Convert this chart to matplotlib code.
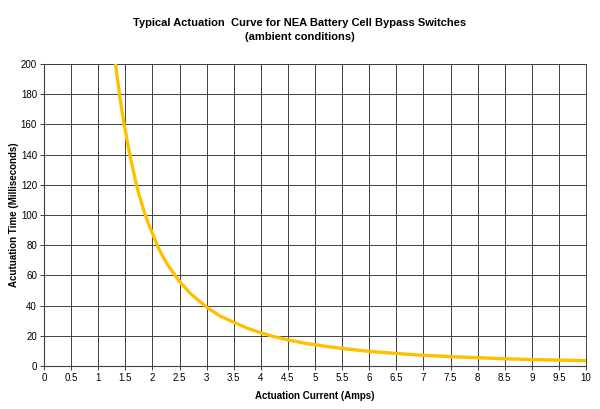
import numpy as np
import matplotlib as mpl
mpl.use("Agg")
from matplotlib import pyplot as plt

plt.rcParams['font.family'] = ['Liberation Sans', 'DejaVu Sans']

# Actuation current (A) and time (ms)
current = [1.32, 1.36, 1.4, 1.45, 1.5, 1.55, 1.6, 1.65, 1.7, 1.75, 1.8, 1.85,
           1.9, 1.95, 2.0, 2.1, 2.2, 2.3, 2.4, 2.5, 2.6, 2.7, 2.8, 2.9, 3.0,
           3.25, 3.5, 3.75, 4.0, 4.25, 4.5, 4.75, 5.0, 5.5, 6.0, 6.5, 7.0,
           7.5, 8.0, 8.5, 9.0, 9.5, 10.0]
act_time = [200, 189, 178, 166, 156, 146, 137, 129, 121, 114, 108, 102,
            97, 92, 88, 79, 72, 66, 61, 56, 52, 48, 45, 42, 39,
            33, 29, 25, 22, 19.4, 17.3, 15.5, 14, 11.6, 9.7, 8.3, 7.1,
            6.2, 5.5, 4.8, 4.3, 3.9, 3.5]

xticks = np.arange(0, 10.01, 0.5)
yticks = np.arange(0, 201, 20)
xtick_labels = ["{:g}".format(v) for v in xticks]

fig = plt.figure(figsize=(6.0, 4.09), dpi=100)
ax = fig.add_axes([44 / 600, 1 - 366 / 409, (586 - 44) / 600, (366 - 64) / 409])

ax.plot(current, act_time, color='#FFC000', lw=2.4, solid_capstyle='butt', zorder=3)

ax.set_xlim(0, 10)
ax.set_ylim(0, 200)
ax.set_xticks(xticks)
ax.set_xticklabels(xtick_labels)
ax.set_yticks(yticks)
ax.grid(True, color='#404040', lw=0.7)
ax.tick_params(labelsize=7, length=3, width=0.7, color='#404040', pad=2)
for side in ['top', 'right']:
    ax.spines[side].set_color('#404040')
    ax.spines[side].set_linewidth(0.7)
for side in ['left', 'bottom']:
    ax.spines[side].set_color('#404040')
    ax.spines[side].set_linewidth(0.8)

ax.set_xlabel("Actuation Current (Amps)", fontsize=7, fontweight='bold', labelpad=6)
fig.text(14 / 600, 1 - 215 / 409, "Acutuation Time (Milliseconds)", rotation=90,
         ha='center', va='center', fontsize=7, fontweight='bold')
fig.text(0.5, 1 - 30 / 409,
         "Typical Actuation  Curve for NEA Battery Cell Bypass Switches\n(ambient conditions)",
         ha='center', va='center', fontsize=8, fontweight='bold', linespacing=1.45)

fig.savefig("out.png", dpi=100)
